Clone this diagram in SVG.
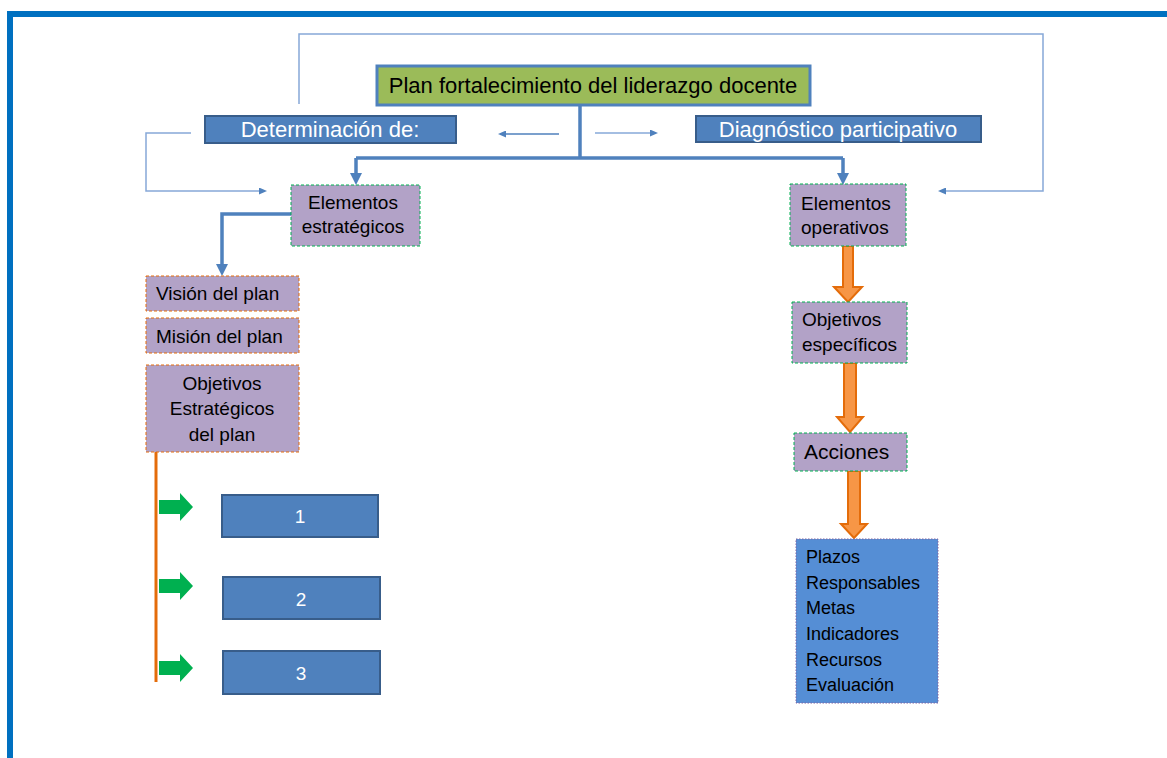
<svg xmlns="http://www.w3.org/2000/svg" width="1167" height="758" viewBox="0 0 1167 758">
  <style>
    text { font-family: "Liberation Sans", Arial, sans-serif; }
    .frame { fill: none; stroke: #0070c0; stroke-width: 6; }
    .head { fill: #9bbb59; stroke: #4f81bd; stroke-width: 3; }
    .blue { fill: #4f81bd; stroke: #385d8a; stroke-width: 2; }
    .lilac-g { fill: #b2a2c7; stroke: #00b050; stroke-width: 1; stroke-dasharray: 3 2; }
    .lilac-o { fill: #b2a2c7; stroke: #e46c0a; stroke-width: 1; stroke-dasharray: 3 2; opacity: 1; }
    .list { fill: #558ed5; stroke: #8064a2; stroke-width: 1; stroke-dasharray: 1.5 1.5; }
    .dark { fill: #000000; }
    .white { fill: #ffffff; }
    .thin { fill: none; stroke: #86a8d8; stroke-width: 1.5; }
    .thick { fill: none; stroke: #4f81bd; stroke-width: 3.5; }
    .block { fill: #f79646; stroke: #e46c0a; stroke-width: 2; }
    .green { fill: #00b050; }
  </style>
  <defs>
    <marker id="tipThin" viewBox="0 0 8 7" refX="0" refY="3.5" markerWidth="8" markerHeight="7" markerUnits="userSpaceOnUse" orient="auto">
      <path d="M0,0 L8,3.5 L0,7 z" fill="#4f81bd"/>
    </marker>
    <marker id="tipThick" viewBox="0 0 12 12" refX="0" refY="6" markerWidth="12" markerHeight="12" markerUnits="userSpaceOnUse" orient="auto">
      <path d="M0,0 L12,6 L0,12 z" fill="#4f81bd"/>
    </marker>
  </defs>

  <rect width="1167" height="758" fill="#ffffff"/>
  <!-- page frame: top and left rules -->
  <path class="frame" d="M1167,14 H10 V758"/>

  <g id="connectors">
    <!-- feedback loops -->
    <path class="thin" d="M299,104 V34 H1043 V191 H946" marker-end="url(#tipThin)"/>
    <path class="thin" d="M191,133 H146 V191 H259" marker-end="url(#tipThin)"/>
    <path class="thin" d="M559,134 H506" marker-end="url(#tipThin)" style="stroke:#4f81bd"/>
    <path class="thin" d="M595,133 H650" marker-end="url(#tipThin)"/>
    <!-- main trunk -->
    <path class="thick" d="M580,105 V158"/>
    <path class="thick" d="M356,158 H843"/>
    <path class="thick" d="M356,158 V173" marker-end="url(#tipThick)"/>
    <path class="thick" d="M843,158 V173" marker-end="url(#tipThick)"/>
    <path class="thick" d="M291,214 H222 V264" marker-end="url(#tipThick)"/>
    <!-- operative chain -->
    <polygon class="block" points="843,246 853,246 853,287 862,287 848,302 834,287 843,287"/>
    <polygon class="block" points="844,363 856,363 856,417 863,417 850,432 837,417 844,417"/>
    <polygon class="block" points="848,471 860,471 860,524 867,524 854,538 841,524 848,524"/>
    <!-- strategic objectives rail -->
    <line x1="156" y1="452" x2="156" y2="682" stroke="#e46c0a" stroke-width="3"/>
    <polygon class="green" points="159,500 180,500 180,493 193,507 180,521 180,514 159,514"/>
    <polygon class="green" points="159,579 180,579 180,572 193,586 180,600 180,593 159,593"/>
    <polygon class="green" points="159,661 180,661 180,654 193,668 180,682 180,675 159,675"/>
  </g>

  <g id="plan">
    <rect class="head" x="377" y="66" width="433" height="39"/>
    <text class="dark" x="593" y="93" font-size="22" text-anchor="middle">Plan fortalecimiento del liderazgo docente</text>
  </g>
  <g id="determinacion">
    <rect class="blue" x="205" y="116" width="251" height="27"/>
    <text class="white" x="330" y="137" font-size="22" text-anchor="middle">Determinación de:</text>
  </g>
  <g id="diagnostico">
    <rect class="blue" x="696" y="116" width="285" height="26"/>
    <text class="white" x="838" y="137" font-size="22" text-anchor="middle">Diagnóstico participativo</text>
  </g>
  <g id="elementos-estrategicos">
    <rect class="lilac-g" x="291" y="185" width="129" height="61"/>
    <text class="dark" x="353" y="209" font-size="19" text-anchor="middle">Elementos</text>
    <text class="dark" x="353" y="233" font-size="19" text-anchor="middle">estratégicos</text>
  </g>
  <g id="elementos-operativos">
    <rect class="lilac-g" x="790" y="184" width="116" height="62"/>
    <text class="dark" x="801" y="210" font-size="19">Elementos</text>
    <text class="dark" x="801" y="234" font-size="19">operativos</text>
  </g>
  <g id="vision">
    <rect class="lilac-o" x="146" y="276" width="153" height="35"/>
    <text class="dark" x="156" y="300" font-size="19">Visión del plan</text>
  </g>
  <g id="mision">
    <rect class="lilac-o" x="146" y="318" width="153" height="35"/>
    <text class="dark" x="156" y="343" font-size="19">Misión del plan</text>
  </g>
  <g id="objetivos-estrategicos">
    <rect class="lilac-o" x="146" y="365" width="153" height="87"/>
    <text class="dark" x="222" y="390" font-size="19" text-anchor="middle">Objetivos</text>
    <text class="dark" x="222" y="415" font-size="19" text-anchor="middle">Estratégicos</text>
    <text class="dark" x="222" y="441" font-size="19" text-anchor="middle">del plan</text>
  </g>
  <g id="objetivo-1">
    <rect class="blue" x="222" y="495" width="156" height="42"/>
    <text class="white" x="300" y="523" font-size="19" text-anchor="middle">1</text>
  </g>
  <g id="objetivo-2">
    <rect class="blue" x="223" y="577" width="157" height="42"/>
    <text class="white" x="301" y="606" font-size="19" text-anchor="middle">2</text>
  </g>
  <g id="objetivo-3">
    <rect class="blue" x="223" y="651" width="157" height="43"/>
    <text class="white" x="301" y="680" font-size="19" text-anchor="middle">3</text>
  </g>
  <g id="objetivos-especificos">
    <rect class="lilac-g" x="792" y="302" width="115" height="61"/>
    <text class="dark" x="802" y="326" font-size="19">Objetivos</text>
    <text class="dark" x="802" y="351" font-size="19">específicos</text>
  </g>
  <g id="acciones">
    <rect class="lilac-g" x="794" y="433" width="113" height="38"/>
    <text class="dark" x="804" y="459" font-size="21">Acciones</text>
  </g>
  <g id="detalle-acciones">
    <rect class="list" x="796" y="539" width="142" height="164"/>
    <text class="dark" x="806" y="563" font-size="18">Plazos</text>
    <text class="dark" x="806" y="589" font-size="18">Responsables</text>
    <text class="dark" x="806" y="614" font-size="18">Metas</text>
    <text class="dark" x="806" y="640" font-size="18">Indicadores</text>
    <text class="dark" x="806" y="666" font-size="18">Recursos</text>
    <text class="dark" x="806" y="691" font-size="18">Evaluación</text>
  </g>
</svg>
